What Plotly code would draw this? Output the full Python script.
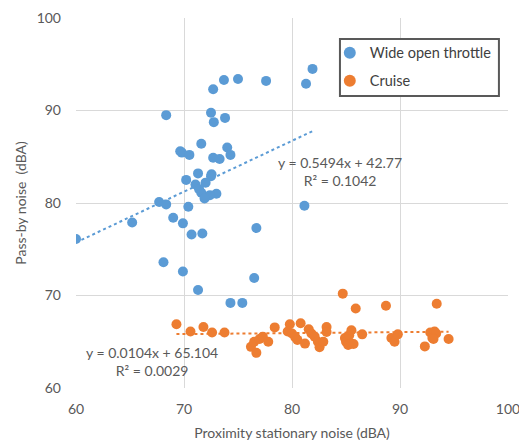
import plotly.graph_objects as go

wot_x = [73.7, 75.0, 77.6, 72.7, 81.9, 81.3, 68.35, 72.5, 73.8, 72.76, 71.6, 69.65, 69.8, 70.5,
         74.0, 74.3, 72.7, 73.3, 71.3, 72.55, 72.5, 70.2, 72.0, 71.06, 71.4, 71.6, 73.0, 72.4,
         71.9, 67.7, 68.35, 70.4, 69.0, 69.9, 70.7, 71.7, 76.7, 60.0, 65.2, 68.1, 69.9, 76.5,
         71.3, 74.3, 75.4, 81.15]
wot_y = [93.3, 93.4, 93.2, 92.3, 94.5, 92.9, 89.5, 89.75, 89.2, 88.74, 86.4, 85.6, 85.45, 85.2,
         86.0, 85.2, 84.9, 84.75, 83.2, 83.1, 82.9, 82.5, 82.2, 82.0, 81.5, 81.1, 81.0, 80.85,
         80.5, 80.1, 79.85, 79.6, 78.4, 77.8, 76.6, 76.7, 77.3, 76.1, 77.9, 73.6, 72.6, 71.9,
         70.6, 69.2, 69.2, 79.7]

cruise_x = [69.3, 70.6, 71.8, 72.6, 73.75, 76.2, 76.5, 76.7, 77.0, 77.3, 77.8, 78.4, 79.8, 79.6,
            80.0, 80.3, 80.5, 81.2, 80.8, 81.55, 81.8, 82.1, 82.4, 82.55, 82.9, 83.2, 83.2, 84.7,
            85.9, 88.7, 84.9, 85.0, 85.2, 85.3, 85.5, 85.5, 85.7, 86.5, 89.2, 89.5, 89.8, 93.4,
            92.8, 93.2, 93.35, 93.0, 93.1, 92.3, 94.5]
cruise_y = [66.9, 66.1, 66.6, 66.0, 66.0, 64.45, 65.0, 63.8, 65.3, 65.55, 65.0, 66.55, 66.9, 66.1,
            65.9, 65.5, 65.2, 64.8, 67.0, 66.35, 65.9, 65.55, 65.0, 64.4, 65.0, 66.6, 66.05, 70.2,
            68.6, 68.9, 65.4, 65.0, 64.65, 65.7, 66.25, 64.8, 64.75, 65.8, 65.4, 65.0, 65.8, 69.1,
            66.0, 66.1, 65.9, 65.4, 65.3, 64.5, 65.3]

wot_slope, wot_intercept = 0.5494, 42.77
cruise_slope, cruise_intercept = 0.0104, 65.104

x_ticks = [60, 70, 80, 90, 100]
y_ticks = [60, 70, 80, 90, 100]

BLUE = "#5B9BD5"
ORANGE = "#ED7D31"
FONT = "Lato, 'Open Sans', sans-serif"
GRAY = "#595959"

def trend(xs, m, b):
    x0, x1 = min(xs), max(xs)
    return [x0, x1], [m * x0 + b, m * x1 + b]

fig = go.Figure()
tx, ty = trend(wot_x, wot_slope, wot_intercept)
fig.add_trace(go.Scatter(x=tx, y=ty, mode="lines", showlegend=False, hoverinfo="skip",
                         line=dict(color=BLUE, width=2, dash="dot")))
tx, ty = trend(cruise_x, cruise_slope, cruise_intercept)
fig.add_trace(go.Scatter(x=tx, y=ty, mode="lines", showlegend=False, hoverinfo="skip",
                         line=dict(color=ORANGE, width=2, dash="dot")))
fig.add_trace(go.Scatter(x=wot_x, y=wot_y, mode="markers", name="Wide open throttle",
                         legendgroup="wot", marker=dict(color=BLUE, size=10)))
fig.add_trace(go.Scatter(x=cruise_x, y=cruise_y, mode="markers", name="Cruise",
                         legendgroup="cruise", marker=dict(color=ORANGE, size=10)))

fig.add_annotation(x=84.4, y=83.4, xref="x", yref="y", showarrow=False,
                   text=f"y = {wot_slope}x + {wot_intercept}<br>R² = 0.1042",
                   font=dict(family=FONT, size=14, color=GRAY), align="center")
fig.add_annotation(x=67.0, y=62.85, xref="x", yref="y", showarrow=False,
                   text=f"y = {cruise_slope}x + {cruise_intercept}<br>R² = 0.0029",
                   font=dict(family=FONT, size=14, color=GRAY), align="center")

# legend frame
fig.add_shape(type="rect", xref="paper", yref="paper", x0=0.611, x1=0.979, y0=0.789, y1=0.943,
              line=dict(color="#595959", width=2), fillcolor="white", layer="above")

axis_common = dict(showgrid=True, gridcolor="#d9d9d9", gridwidth=1, zeroline=False,
                   showline=False, ticks="", automargin=False,
                   tickfont=dict(family=FONT, size=14, color=GRAY))

fig.update_xaxes(range=[60, 100], tickvals=x_ticks, ticklabelstandoff=11, **axis_common,
                 title=dict(text="Proximity stationary noise (dBA)",
                            font=dict(family=FONT, size=14, color=GRAY), standoff=12))
fig.update_yaxes(range=[60, 100], tickvals=y_ticks, ticklabelstandoff=14, **axis_common,
                 title=dict(text="Pass-by noise  (dBA)",
                            font=dict(family=FONT, size=14, color=GRAY), standoff=6))

fig.update_layout(
    width=519, height=433,
    margin=dict(l=68, r=19, t=10, b=53),
    plot_bgcolor="white", paper_bgcolor="white",
    font=dict(family=FONT, size=14, color=GRAY),
    legend=dict(x=0.5875, y=0.949, xanchor="left", yanchor="top",
                bgcolor="rgba(0,0,0,0)", borderwidth=0,
                font=dict(family=FONT, size=14.5, color="#404040"),
                itemwidth=30, itemsizing="constant", tracegroupgap=6),
)

fig.write_html("out.html")
